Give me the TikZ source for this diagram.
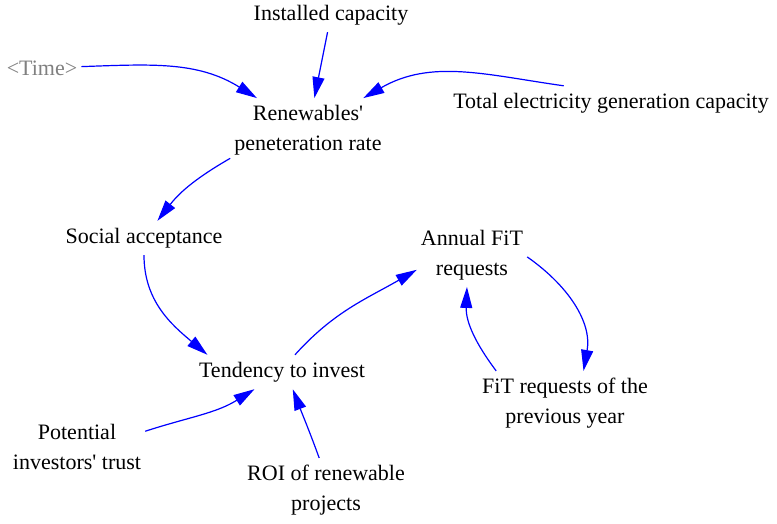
\documentclass[tikz,border=0pt]{standalone}
\usepackage{fontspec}
\setmainfont{LiberationSerif}[Extension=.ttf, UprightFont=*-Regular,
    BoldFont=*-Bold, ItalicFont=*-Italic, BoldItalicFont=*-BoldItalic]
\usetikzlibrary{arrows.meta}
\colorlet{linkcolor}{blue}
\colorlet{shadowcolor}{black!50}
\tikzset{
    var/.style={align=center, inner xsep=4pt, inner ysep=7pt,
        font=\fontsize{22}{29.5}\selectfont},
    shadowvar/.style={var, text=shadowcolor},
    link/.style={draw=linkcolor, line width=1.2pt,
        -{Triangle[length=21pt, width=12pt]}}
}

\begin{document}
\begin{tikzpicture}[x=1pt, y=1pt]
    \useasboundingbox (0,0) rectangle (777,523);
    % --- Variables ---
    \node[var] (inst) at (331,508) {Installed capacity};
    \node[shadowvar] (time) at (42,455) {<Time>};
    \node[var] (ren) at (308,393) {Renewables\textquotesingle\\peneteration rate};
    \node[var] (total) at (611,420) {Total electricity generation capacity};
    \node[var] (social) at (144,285) {Social acceptance};
    \node[var] (annual) at (472,268) {Annual FiT\\requests};
    \node[var] (tend) at (282,151) {Tendency to invest};
    \node[var] (prev) at (565,120) {FiT requests of the\\previous year};
    \node[var] (trust) at (77,76) {Potential\\investors\textquotesingle{} trust};
    \node[var] (roi) at (326,33) {ROI of renewable\\projects};
    % --- Links into the penetration rate ---
    \draw[link] (inst) -- (ren);
    \draw[link] (time) to[out=2, in=148] (ren);
    \draw[link] (total.160) to[out=172, in=30] (ren);
    % --- Acceptance and investment ---
    \draw[link] (ren.200) to[out=210, in=52] (social);
    \draw[link] (social) to[out=270, in=140] (tend.167);
    \draw[link] (trust.13) to[out=18, in=212] (tend);
    \draw[link] (roi.102) to[out=110, in=291] (tend.302);
    \draw[link] (tend.53) to[out=48, in=210] (annual.195);
    % --- FiT loop ---
    \draw[link] (annual.358) to[out=325, in=80] (prev.60);
    \draw[link] (prev.155) to[out=127, in=268] (annual.261);
\end{tikzpicture}
\end{document}
